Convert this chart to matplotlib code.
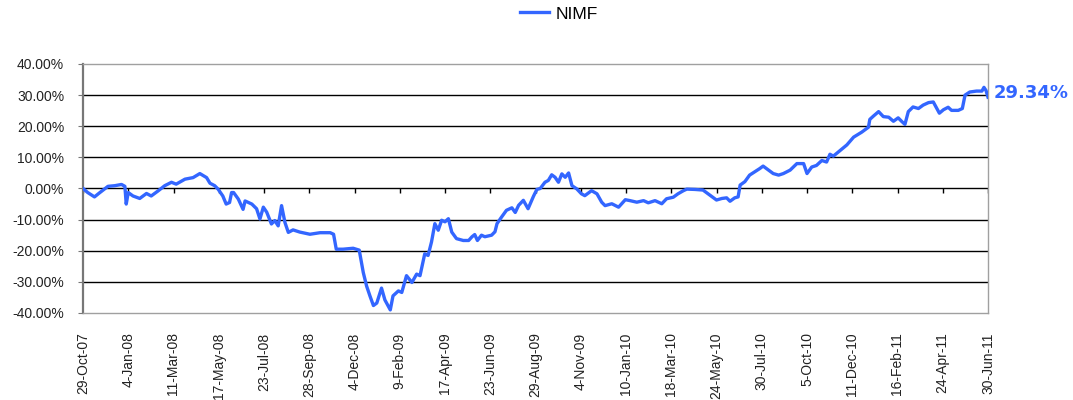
import pandas as pd
import matplotlib
matplotlib.use('Agg')
import matplotlib.pyplot as plt
from matplotlib.ticker import FuncFormatter

plt.rcParams['font.family'] = ['Liberation Sans', 'DejaVu Sans']

# NIMF cumulative return (%); x = days since 29-Oct-07
start_date = '2007-10-29'
days = [0, 7, 17, 25, 37, 47, 57, 62, 64, 67, 74, 84, 94, 101, 111, 121, 131, 138,
        151, 163, 173, 183, 188, 195, 200, 207, 212, 217, 220, 223, 230, 237, 240,
        250, 257, 262, 267, 272, 279, 284, 289, 294, 299, 304, 311, 321, 336, 351,
        366, 371, 375, 385, 400, 409, 415, 420, 425, 430, 435, 442, 447, 455, 459,
        467, 472, 479, 487, 494, 499, 506, 511, 516, 521, 526, 531, 536, 541, 546,
        553, 563, 571, 576, 580, 584, 590, 595, 605, 610, 613, 620, 627, 635, 640,
        645, 652, 659, 667, 672, 677, 684, 689, 694, 699, 704, 709, 714, 719, 724,
        731, 738, 743, 753, 761, 768, 773, 783, 793, 803, 810, 820, 830, 837, 847,
        857, 864, 874, 881, 889, 894, 906, 918, 928, 938, 946, 953, 958, 965, 970,
        973, 980, 987, 995, 1002, 1007, 1015, 1022, 1030, 1037, 1047, 1057, 1067,
        1072, 1079, 1086, 1094, 1101, 1106, 1111, 1121, 1131, 1141, 1153, 1163,
        1165, 1170, 1178, 1185, 1193, 1200, 1207, 1212, 1217, 1222, 1229, 1237,
        1244, 1252, 1259, 1263, 1268, 1274, 1281, 1286, 1296, 1302, 1306, 1313,
        1323, 1331, 1334, 1337, 1340]
nimf = [0.0, -1.3, -2.7, -1.3, 0.7, 0.9, 1.3, 0.7, -5.0, -1.3, -2.4, -3.2, -1.6, -2.4,
        -0.8, 0.9, 2.0, 1.4, 3.0, 3.5, 4.8, 3.5, 1.7, 0.9, -0.2, -2.4, -5.0, -4.5,
        -1.3, -1.3, -3.4, -6.7, -4.0, -5.0, -6.5, -9.8, -6.0, -7.6, -11.4, -10.3,
        -12.0, -5.5, -10.9, -14.1, -13.3, -14.0, -14.7, -14.2, -14.2, -14.7, -19.5,
        -19.5, -19.2, -19.8, -27.0, -31.4, -34.6, -37.6, -36.8, -32.0, -35.8, -39.0,
        -34.5, -32.9, -33.4, -28.0, -30.2, -27.5, -28.0, -21.0, -21.5, -17.2, -11.3,
        -13.4, -10.2, -10.7, -9.7, -14.0, -16.1, -16.7, -16.7, -15.5, -14.8, -16.7,
        -15.0, -15.5, -15.0, -13.9, -11.3, -9.1, -7.0, -6.2, -7.7, -5.4, -3.8, -6.5,
        -2.5, -0.3, 0.0, 2.0, 2.6, 4.4, 3.6, 2.0, 4.7, 3.6, 5.0, 0.9, -0.1, -1.7,
        -2.3, -0.7, -1.7, -4.4, -5.5, -4.9, -6.0, -3.6, -3.9, -4.4, -3.9, -4.6, -3.9,
        -4.9, -3.3, -2.8, -1.7, -0.7, -0.2, -0.3, -0.5, -2.1, -3.7, -3.2, -3.0, -4.1,
        -3.0, -2.7, 1.1, 2.2, 4.3, 5.4, 6.4, 7.2, 5.9, 4.8, 4.3, 4.8, 5.9, 8.0, 8.0,
        4.8, 6.9, 7.4, 9.0, 8.5, 11.0, 10.4, 12.2, 14.0, 16.5, 18.1, 19.7, 22.2,
        23.2, 24.7, 23.1, 22.9, 21.6, 22.7, 21.6, 20.6, 24.7, 26.2, 25.7, 26.8, 27.6,
        27.8, 26.2, 24.2, 25.3, 26.1, 25.1, 25.1, 25.7, 30.0, 31.0, 31.3, 31.3,
        32.5, 31.5, 29.34]

tick_labels = ['29-Oct-07', '4-Jan-08', '11-Mar-08', '17-May-08', '23-Jul-08',
               '28-Sep-08', '4-Dec-08', '9-Feb-09', '17-Apr-09', '23-Jun-09',
               '29-Aug-09', '4-Nov-09', '10-Jan-10', '18-Mar-10', '24-May-10',
               '30-Jul-10', '5-Oct-10', '11-Dec-10', '16-Feb-11', '24-Apr-11',
               '30-Jun-11']
y_ticks = [-40, -30, -20, -10, 0, 10, 20, 30, 40]

blue = '#3366FF'

dates = pd.to_datetime(start_date) + pd.to_timedelta(days, unit='D')
tick_dates = pd.to_datetime(tick_labels, format='%d-%b-%y')

fig = plt.figure(figsize=(10.73, 4.0), dpi=100)
ax = fig.add_axes([83 / 1073, 1 - 313 / 400, 905 / 1073, 249 / 400])

for v in y_ticks[1:-1]:
    ax.axhline(v, color='black', lw=1.0, zorder=1)

ax.plot(dates, nimf, color=blue, lw=2.4, label='NIMF', zorder=3)

# small tick marks hanging from the zero line
ax.vlines(tick_dates, -1.3, 0, color='black', lw=1.0, zorder=2)

ax.set_xlim(tick_dates[0], tick_dates[-1])
ax.set_ylim(-40, 40)
ax.set_yticks(y_ticks)
ax.yaxis.set_major_formatter(FuncFormatter(lambda v, p: f'{v:.2f}%'))
ax.set_xticks(tick_dates)
ax.set_xticklabels(tick_labels, rotation=90, fontsize=10, color='#222222')
ax.tick_params(axis='x', length=0, pad=14)
ax.tick_params(axis='y', labelsize=10, labelcolor='#222222', length=3.6,
               color='#777777', pad=10)

ax.spines['left'].set_color('#777777')
ax.spines['left'].set_linewidth(1.6)
for s in ['top', 'right', 'bottom']:
    ax.spines[s].set_color('#A0A0A0')
    ax.spines[s].set_linewidth(1.0)

ax.annotate(f'{nimf[-1]:.2f}%', xy=(dates[-1], nimf[-1]), xytext=(6, 4),
            textcoords='offset pixels', color=blue, fontsize=13,
            family='DejaVu Sans', fontweight='bold', va='center', ha='left',
            annotation_clip=False)

fig.legend(loc='center', bbox_to_anchor=(0.5205, 0.965), frameon=False,
           fontsize=12.5, handlelength=1.7, handletextpad=0.35)

fig.savefig('out.png', dpi=100)
